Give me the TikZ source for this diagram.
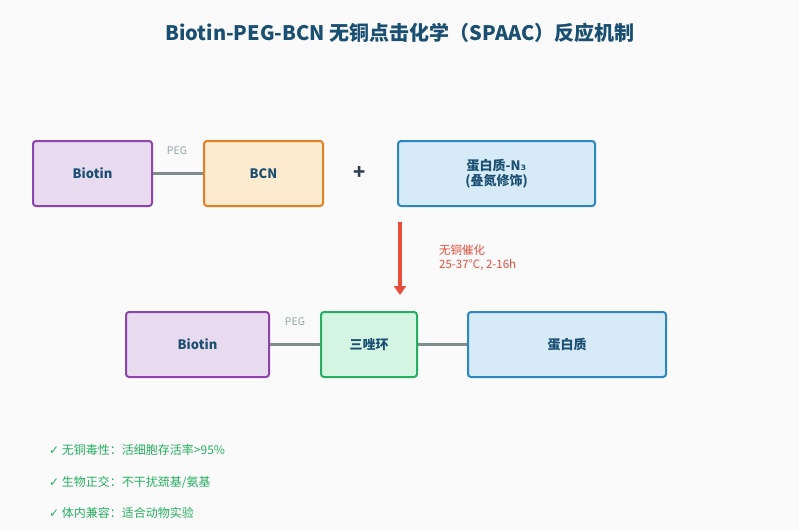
\documentclass[tikz,border=0pt]{standalone}
\usepackage{fontspec}
\setmainfont{Noto Sans CJK SC}
\newfontfamily\symfont{DejaVu Sans}
\usetikzlibrary{arrows.meta,positioning}
\definecolor{ink}{HTML}{1B4F72}
\definecolor{bgc}{HTML}{FAFAFA}
\definecolor{purp}{HTML}{8E44AD}
\definecolor{purpfill}{HTML}{E8DAEF}
\definecolor{orng}{HTML}{E67E22}
\definecolor{orngfill}{HTML}{FDEBD0}
\definecolor{blu}{HTML}{2E86C1}
\definecolor{blufill}{HTML}{D6EAF8}
\definecolor{grn}{HTML}{27AE60}
\definecolor{grnfill}{HTML}{D5F5E3}
\definecolor{linkgray}{HTML}{7F8C8D}
\definecolor{peggray}{HTML}{95A5A6}
\definecolor{redc}{HTML}{E74C3C}
\definecolor{plusc}{HTML}{2C3E50}
\tikzset{
  box/.style={draw,line width=2pt,rounded corners=3pt,align=center,font=\fontsize{13}{15.5}\selectfont\bfseries,text=ink,inner sep=0pt,minimum height=65pt},
  biobox/.style={box,draw=purp,fill=purpfill},
  bcnbox/.style={box,draw=orng,fill=orngfill},
  protbox/.style={box,draw=blu,fill=blufill},
  tribox/.style={box,draw=grn,fill=grnfill},
  link/.style={draw=linkgray,line width=3pt},
  lbl/.style={font=\fontsize{10.5}{12}\selectfont,text=peggray},
  flow/.style={draw=redc,line width=3.5pt,-{Triangle[length=9pt,width=12pt]}},
  cond/.style={font=\fontsize{11.5}{14}\selectfont,text=redc,align=left,inner sep=0pt},
  note/.style={font=\fontsize{12}{14}\selectfont,text=grn,anchor=west,inner sep=0pt}
}
\begin{document}
\begin{tikzpicture}[x=1pt,y=-1pt]
\useasboundingbox[fill=bgc] (0,0) rectangle (799,530);
\node[font=\fontsize{20}{24}\selectfont\bfseries,text=ink] (title) at (400,33) {Biotin-PEG-BCN 无铜点击化学（SPAAC）反应机制};
% reactants
\node[biobox,minimum width=119pt] (bio1) at (92.5,173.5) {Biotin};
\node[bcnbox,minimum width=119pt] (bcn) at (263.5,173.5) {BCN};
\node[protbox,minimum width=197pt] (prot1) at (496.5,173.5) {蛋白质-N{\symfont ₃}\\(叠氮修饰)};
\node[font=\fontsize{20}{24}\selectfont\bfseries,text=plusc] (plus) at (360,173) {+};
\draw[link] (bio1) -- (bcn);
\node[lbl] (peg1) at (177,151) {PEG};
% reaction arrow
\coordinate (arrtop) at (400,222);
\coordinate (arrbot) at (400,295);
\draw[flow] (arrtop) -- (arrbot);
\node[cond,anchor=north west] (cond) at (439,245) {无铜催化\\25-37°C, 2-16h};
% product
\node[biobox,minimum width=143pt] (bio2) at (197.5,344.5) {Biotin};
\node[tribox,minimum width=96pt] (tri) at (369,344.5) {三唑环};
\node[protbox,minimum width=198pt] (prot2) at (567,344.5) {蛋白质};
\draw[link] (bio2) -- (tri);
\draw[link] (tri) -- (prot2);
\node[lbl] (peg2) at (295,322) {PEG};
% notes
\node[note] (n1) at (49,450) {{\symfont ✓} 无铜毒性：活细胞存活率>95\%};
\node[note] (n2) at (49,482) {{\symfont ✓} 生物正交：不干扰巯基/氨基};
\node[note] (n3) at (49,513) {{\symfont ✓} 体内兼容：适合动物实验};
\end{tikzpicture}
\end{document}
